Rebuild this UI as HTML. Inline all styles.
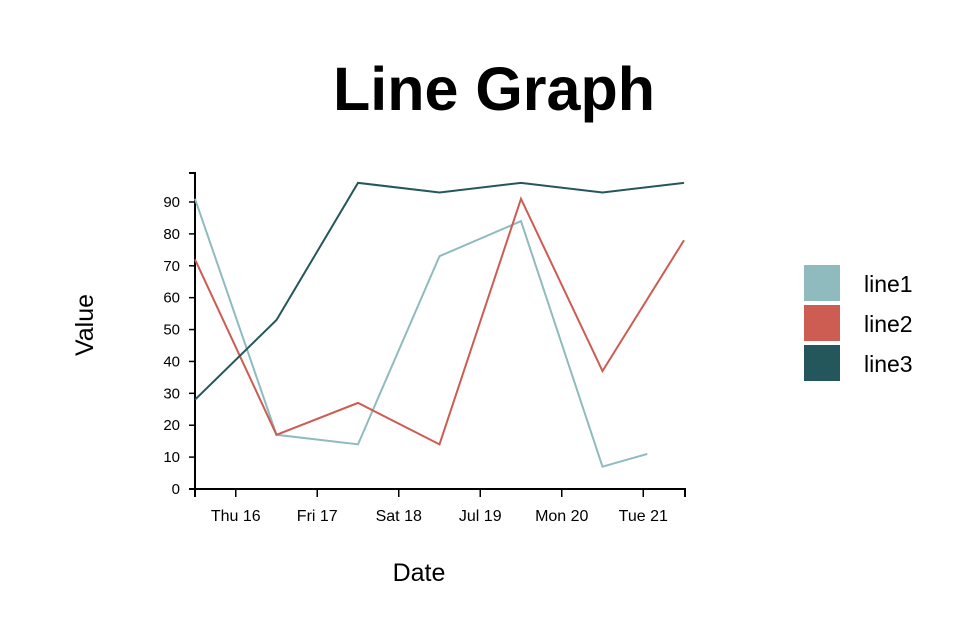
<!DOCTYPE html>
<html><head><meta charset="utf-8"><style>
body{margin:0;background:#fff;font-family:"Liberation Sans","DejaVu Sans",sans-serif}
svg text{font-family:"Liberation Sans","DejaVu Sans",sans-serif}
</style></head><body>
<svg id="chart" width="958" height="630">
<text x="494" y="110" text-anchor="middle" font-size="61" font-weight="bold">Line Graph</text>
<g id="axes"></g><g id="lines"></g><g id="legend"></g>
<text x="419" y="581" text-anchor="middle" font-size="25">Date</text>
<text transform="translate(93,325) rotate(-90)" text-anchor="middle" font-size="25">Value</text>
</svg>
<script>
const xTickLabels=["Thu 16","Fri 17","Sat 18","Jul 19","Mon 20","Tue 21"];
const xTickPos=[0.5,1.5,2.5,3.5,4.5,5.5];
const yTicks=[0,10,20,30,40,50,60,70,80,90];
const line1X=[0,1,2,3,4,5,5.55];
const line1=[91,17,14,73,84,7,11];
const line2X=[0,1,2,3,4,5,6];
const line2=[72,17,27,14,91,37,78];
const line3X=[0,1,2,3,4,5,6];
const line3=[28,53,96,93,96,93,96];
const names=["line1","line2","line3"];
const colors=["#8fbbbf","#cd5c52","#24575c"];
const NS="http://www.w3.org/2000/svg";
const x=d=>195+d*(684-195)/6;
const y=v=>489-v*(489-202)/90;
function mk(t,a,p){const e=document.createElementNS(NS,t);for(const k in a)e.setAttribute(k,a[k]);p.appendChild(e);return e;}
const ax=document.getElementById('axes');
let yl=mk('path',{d:`M189,173H195V489H189`,fill:'none',stroke:'#000','stroke-width':2},ax);


yTicks.forEach(v=>{
 const t=mk('line',{x1:189,x2:195,y1:y(v),y2:y(v),stroke:'#000','stroke-width':1.5},ax);
 
 
 const l=mk('text',{x:180,y:y(v)+5,'text-anchor':'end','font-size':15},ax);l.textContent=v;
 
 
});
let xl=mk('path',{d:`M195,497V489H685V497`,fill:'none',stroke:'#000','stroke-width':2},ax);


xTickPos.forEach((d,i)=>{
 const t=mk('line',{x1:x(d),x2:x(d),y1:489,y2:497,stroke:'#000','stroke-width':1.5},ax);
 
 
 const l=mk('text',{x:x(d),y:521,'text-anchor':'middle','font-size':16},ax);l.textContent=xTickLabels[i];
 
 
});
const lg=document.getElementById('lines');
[[line1X,line1],[line2X,line2],[line3X,line3]].forEach((s,i)=>{
 const p=mk('path',{d:s[1].map((v,j)=>(j?'L':'M')+x(s[0][j])+','+y(v)).join(''),fill:'none',stroke:colors[i],'stroke-width':2},lg);
 
 
});
const le=document.getElementById('legend');
names.forEach((n,i)=>{
 const r=mk('rect',{x:804,y:265+i*40,width:36,height:36,fill:colors[i]},le);
 
 
 const t=mk('text',{x:864,y:292+i*40,'font-size':23},le);t.textContent=n;
 
 
});
</script>
</body></html>
